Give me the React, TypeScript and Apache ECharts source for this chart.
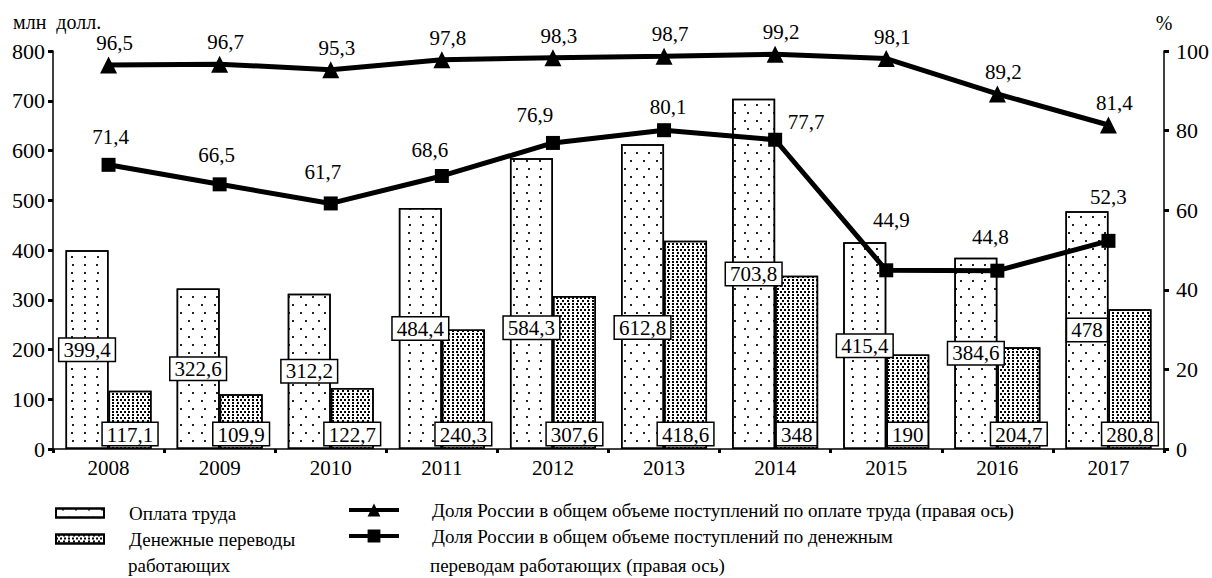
import React, { useEffect, useRef } from 'react';
import * as echarts from 'echarts';

const years = ['2008', '2009', '2010', '2011', '2012', '2013', '2014', '2015', '2016', '2017'];
const labourPay = [399.4, 322.6, 312.2, 484.4, 584.3, 612.8, 703.8, 415.4, 384.6, 478];
const remittances = [117.1, 109.9, 122.7, 240.3, 307.6, 418.6, 348, 190, 204.7, 280.8];
const shareLabour = [96.5, 96.7, 95.3, 97.8, 98.3, 98.7, 99.2, 98.1, 89.2, 81.4];
const shareRemit = [71.4, 66.5, 61.7, 68.6, 76.9, 80.1, 77.7, 44.9, 44.8, 52.3];

const nameLabour = 'Оплата труда';
const nameRemit = 'Денежные переводы работающих';
const nameShareLabour = 'Доля России в общем объеме поступлений по оплате труда (правая ось)';
const nameShareRemit = 'Доля России в общем объеме поступлений по денежным переводам работающих (правая ось)';

const FONT = 'Liberation Serif';

const fmt = (v: number) => String(v).replace('.', ',');

// label placement tweaks (style only)
const labourLabelShift: Record<number, number> = { 4: 24, 5: 31 };
const remitLabelOffset: number[][] = [
  [2, 0], [-3, -2], [-8, -4], [-12, 2], [-18, 0], [4, 4], [31, 10], [5, -23], [-7, -6], [0, -16],
];

export default function App() {
  const ref = useRef<HTMLDivElement>(null);
  useEffect(() => {
    document.body.style.margin = '0';
    if (!ref.current) return;
    const chart = echarts.init(ref.current, undefined, { renderer: 'svg' });

    const boxLabel = {
      show: true,
      color: '#000',
      fontSize: 21,
      fontFamily: FONT,
      backgroundColor: '#fff',
      borderColor: '#000',
      borderWidth: 1.5,
      padding: [1, 4, 0, 4],
      formatter: (p: any) => fmt(p.value),
    };

    const txt = (text: string, x: number, y: number, size = 19, align = 'left') => ({
      type: 'text',
      x,
      y,
      style: {
        text,
        fontSize: size,
        fontFamily: FONT,
        fill: '#000',
        align,
        textAlign: align,
        verticalAlign: 'middle',
        textVerticalAlign: 'middle',
      },
    });

    const option: any = {
      animation: false,
      backgroundColor: '#fff',
      textStyle: { fontFamily: FONT, color: '#000' },
      grid: { left: 53, right: 48, top: 51, bottom: 129, containLabel: false, outerBoundsMode: 'none' },
      legend: [
        {
          data: [nameLabour, nameRemit],
          orient: 'vertical',
          left: 55,
          top: 500,
          padding: 0,
          itemGap: 0,
          itemWidth: 48,
          itemHeight: 9,
          icon: 'rect',
          selectedMode: false,
          formatter: (n: string) => (n === nameRemit ? 'Денежные переводы' : n),
          textStyle: { fontFamily: FONT, fontSize: 19, color: '#000', lineHeight: 26, padding: [0, 0, 0, 20] },
        },
        {
          data: [nameShareLabour, nameShareRemit],
          orient: 'vertical',
          left: 347,
          top: 497,
          padding: 0,
          itemGap: 0,
          itemWidth: 50,
          itemHeight: 16,
          selectedMode: false,
          lineStyle: { width: 4, color: '#000' },
          formatter: (n: string) => (n === nameShareRemit ? 'Доля России в общем объеме поступлений по денежным' : n),
          textStyle: { fontFamily: FONT, fontSize: 19, color: '#000', lineHeight: 26, padding: [0, 0, 0, 28] },
        },
      ],
      graphic: [
        txt('млн  долл.', 13, 22, 20),
        txt('%', 1164, 23, 20, 'center'),
        txt('работающих', 128, 565),
        txt('переводам работающих (правая ось)', 430, 565),
      ],
      xAxis: {
        type: 'category',
        data: years,
        boundaryGap: true,
        axisLine: { show: true, lineStyle: { color: '#000', width: 1.5 } },
        axisTick: { show: true, length: 4, lineStyle: { color: '#000', width: 3 } },
        axisLabel: { color: '#000', fontSize: 21, fontFamily: FONT, margin: 8 },
        splitLine: { show: false },
      },
      yAxis: [
        {
          type: 'value',
          min: 0,
          max: 800,
          interval: 100,
          position: 'left',
          axisLine: { show: true, lineStyle: { color: '#000', width: 1.5 } },
          axisTick: { show: true, length: 5, lineStyle: { color: '#000', width: 3 } },
          axisLabel: { color: '#000', fontSize: 22, fontFamily: FONT, margin: 8 },
          splitLine: { show: false },
        },
        {
          type: 'value',
          min: 0,
          max: 100,
          interval: 20,
          position: 'right',
          axisLine: { show: true, lineStyle: { color: '#000', width: 1.5 } },
          axisTick: { show: true, length: 5, lineStyle: { color: '#000', width: 3 } },
          axisLabel: { color: '#000', fontSize: 22, fontFamily: FONT, margin: 12 },
          splitLine: { show: false },
        },
      ],
      series: [
        {
          name: nameLabour,
          type: 'bar',
          barWidth: 43,
          barGap: '0%',
          z: 2,
          itemStyle: {
            color: '#fff',
            borderColor: '#000',
            borderWidth: 1.5,
            decal: {
              symbol: 'rect',
              symbolSize: 1,
              color: '#222',
              dashArrayX: [[1.2, 9.8], [0, 5.5, 1.2, 4.3]],
              dashArrayY: [1.2, 5.8],
            },
          },
          label: { ...boxLabel, position: 'inside' },
          data: labourPay.map((v, i) =>
            labourLabelShift[i] ? { value: v, label: { offset: [0, labourLabelShift[i]] } } : v
          ),
        },
        {
          name: nameRemit,
          type: 'bar',
          barWidth: 43,
          barGap: '0%',
          z: 2,
          itemStyle: {
            color: '#fff',
            borderColor: '#000',
            borderWidth: 1.5,
            decal: {
              symbol: 'rect',
              symbolSize: 1,
              color: '#000',
              dashArrayX: [[1.2, 1.6], [0, 1.4, 1.2, 0.2]],
              dashArrayY: [1.2, 1.0],
            },
          },
          label: { ...boxLabel, position: 'insideBottom', distance: 4 },
          data: remittances,
        },
        {
          name: nameShareLabour,
          type: 'line',
          yAxisIndex: 1,
          z: 5,
          symbol: 'triangle',
          symbolSize: 17,
          color: '#000',
          itemStyle: { color: '#000' },
          lineStyle: { color: '#000', width: 5 },
          label: {
            show: true,
            position: 'top',
            distance: 3,
            offset: [6, 0],
            color: '#000',
            fontSize: 21,
            fontFamily: FONT,
            formatter: (p: any) => fmt(p.value),
          },
          data: shareLabour,
        },
        {
          name: nameShareRemit,
          type: 'line',
          yAxisIndex: 1,
          z: 5,
          symbol: 'rect',
          symbolSize: 14,
          color: '#000',
          itemStyle: { color: '#000' },
          lineStyle: { color: '#000', width: 5 },
          label: {
            show: true,
            position: 'top',
            distance: 10,
            color: '#000',
            fontSize: 21,
            fontFamily: FONT,
            formatter: (p: any) => fmt(p.value),
          },
          data: shareRemit.map((v, i) => ({ value: v, label: { offset: remitLabelOffset[i] } })),
        },
      ],
    };

    chart.setOption(option);
    return () => chart.dispose();
  }, []);

  return <div ref={ref} style={{ width: 1212, height: 578 }} />;
}
